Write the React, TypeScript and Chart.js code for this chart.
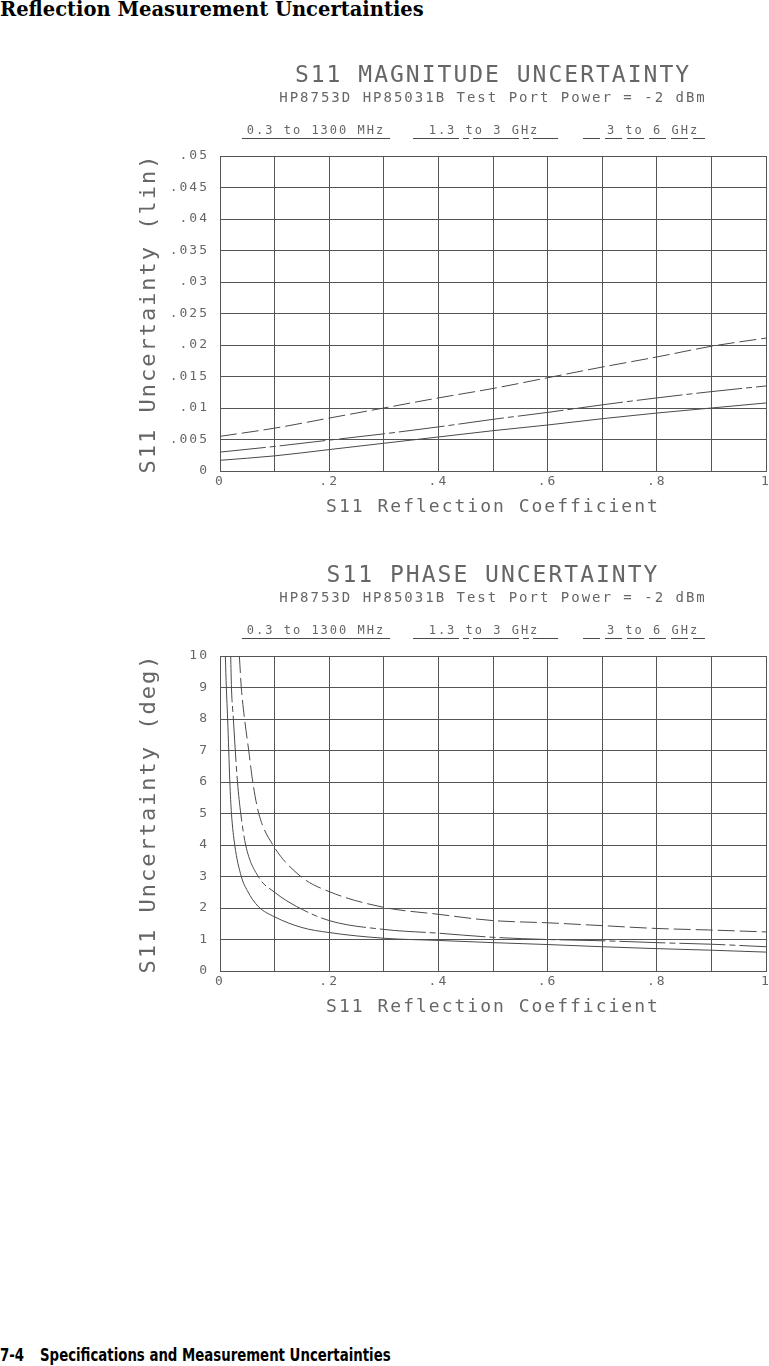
import React, { useEffect, useRef } from 'react';
import { Chart, registerables } from 'chart.js';

Chart.register(...registerables);

// ---------- text ----------
const pageTitle = 'Reflection Measurement Uncertainties';
const footerPage = '7-4';
const footerText = 'Specifications and Measurement Uncertainties';
const subtitleText = 'HP8753D HP85031B Test Port Power = -2 dBm';
const magTitle = 'S11 MAGNITUDE UNCERTAINTY';
const phaseTitle = 'S11 PHASE UNCERTAINTY';
const xAxisTitle = 'S11 Reflection Coefficient';
const magYTitle = 'S11 Uncertainty (lin)';
const phaseYTitle = 'S11 Uncertainty (deg)';
const seriesLabels = ['0.3 to 1300 MHz', '1.3 to 3 GHz', '3 to 6 GHz'];

// ---------- tick labels ----------
const xTickLabels = ['0', '.2', '.4', '.6', '.8', '1'];
const magYTickLabels = ['0', '.005', '.01', '.015', '.02', '.025', '.03', '.035', '.04', '.045', '.05'];
const phaseYTickLabels = ['0', '1', '2', '3', '4', '5', '6', '7', '8', '9', '10'];

// ---------- magnitude data ----------
const magX = [0, 0.1, 0.2, 0.3, 0.4, 0.5, 0.6, 0.7, 0.8, 0.9, 1.0];
const magLow = [0.0017, 0.0024, 0.0034, 0.0044, 0.0054, 0.0064, 0.0073, 0.0083, 0.0092, 0.01, 0.0108];
const magMid = [0.003, 0.0039, 0.0049, 0.0059, 0.007, 0.0082, 0.0093, 0.0105, 0.0116, 0.0126, 0.0135];
const magHigh = [0.0055, 0.0068, 0.0084, 0.01, 0.0116, 0.0131, 0.0148, 0.0165, 0.0181, 0.0198, 0.0211];

// ---------- phase data ----------
const phaseLowX = [0.0098, 0.0116, 0.014, 0.016, 0.018, 0.021, 0.027, 0.039, 0.05, 0.07, 0.1, 0.15, 0.2, 0.3, 0.4, 0.5, 0.6, 0.7, 0.8, 0.9, 1.0];
const phaseLowY = [10, 9, 8, 7, 6, 5, 4, 3, 2.55, 2.05, 1.72, 1.38, 1.22, 1.04, 0.97, 0.9, 0.84, 0.77, 0.71, 0.66, 0.6];
const phaseMidX = [0.0196, 0.021, 0.0245, 0.028, 0.032, 0.038, 0.047, 0.07, 0.1, 0.14, 0.2, 0.3, 0.4, 0.5, 0.6, 0.7, 0.8, 0.9, 1.0];
const phaseMidY = [10, 9, 8, 7, 6, 5, 4, 3, 2.5, 2.05, 1.6, 1.32, 1.2, 1.07, 1.0, 0.96, 0.9, 0.85, 0.77];
const phaseHighX = [0.0355, 0.039, 0.045, 0.0526, 0.06, 0.071, 0.097, 0.148, 0.2, 0.3, 0.4, 0.5, 0.6, 0.7, 0.8, 0.9, 1.0];
const phaseHighY = [10, 9, 8, 7, 6, 5, 4, 3, 2.52, 2.02, 1.8, 1.6, 1.53, 1.44, 1.35, 1.3, 1.24];

// ---------- styles ----------
const FONT = '"DejaVu Sans Mono", "Liberation Mono", monospace';
const TEXT = '#666666';
const GRID = '#555555';
const LINE = '#4a4a4a';
const DASHES: number[][] = [[], [46, 4, 6, 4], [17, 5]];

const toPoints = (xs: number[], ys: number[]) => xs.map((x, i) => ({ x, y: ys[i] }));

const spacingPlugin = {
  id: 'plotterSpacing',
  beforeUpdate(chart: any) { chart.ctx.letterSpacing = '2px'; },
  beforeLayout(chart: any) { chart.ctx.letterSpacing = '2px'; },
  beforeDraw(chart: any) { chart.ctx.letterSpacing = '2px'; },
};

const legendPlugin = {
  id: 'plotterLegend',
  afterDraw(chart: any, _args: any, opts: any) {
    const ctx = chart.ctx;
    ctx.save();
    ctx.letterSpacing = '2px';
    ctx.font = `12px ${FONT}`;
    ctx.fillStyle = TEXT;
    ctx.textAlign = 'center';
    ctx.textBaseline = 'middle';
    chart.data.datasets.forEach((ds: any, i: number) => {
      const it = opts.items[i];
      ctx.fillText(ds.label, it.textX, opts.textY);
      ctx.setLineDash(ds.borderDash || []);
      ctx.strokeStyle = ds.borderColor;
      ctx.lineWidth = 1;
      ctx.beginPath();
      ctx.moveTo(it.x0, opts.lineY + 0.5);
      ctx.lineTo(it.x1, opts.lineY + 0.5);
      ctx.stroke();
    });
    ctx.restore();
  },
};

type Series = { label: string; points: { x: number; y: number }[] };

function PlotterChart(props: {
  top: number;
  title: string;
  yTitle: string;
  yMax: number;
  yStep: number;
  yTickLabels: string[];
  series: Series[];
}) {
  const ref = useRef<HTMLCanvasElement | null>(null);
  useEffect(() => {
    if (!ref.current) return;
    const chart = new Chart(ref.current, {
      type: 'line',
      data: {
        datasets: props.series.map((s, i) => ({
          label: s.label,
          data: s.points,
          borderColor: LINE,
          borderWidth: 1,
          borderDash: DASHES[i],
          pointRadius: 0,
          fill: false,
          cubicInterpolationMode: 'monotone' as const,
        })),
      },
      options: {
        animation: false,
        responsive: false,
        events: [],
        layout: { padding: { left: 0, right: 14, top: 0, bottom: 0 } },
        plugins: {
          legend: { display: false },
          tooltip: { enabled: false },
          title: {
            display: true,
            text: props.title,
            fullSize: false,
            color: TEXT,
            font: { family: FONT, size: 23, weight: 'normal', lineHeight: 1 },
            padding: { top: 24.5, bottom: 0 },
          },
          subtitle: {
            display: true,
            text: subtitleText,
            fullSize: false,
            color: TEXT,
            font: { family: FONT, size: 14, weight: 'normal', lineHeight: 1 },
            padding: { top: 4, bottom: 50.5 },
          },
          plotterLegend: {
            textY: 91,
            lineY: 98,
            items: [
              { textX: 316, x0: 242, x1: 390 },
              { textX: 484, x0: 413, x1: 558 },
              { textX: 653, x0: 583, x1: 705 },
            ],
          },
        } as any,
        scales: {
          x: {
            type: 'linear',
            min: 0,
            max: 1,
            grid: { color: GRID, drawTicks: false, lineWidth: 1 },
            border: { color: GRID },
            ticks: {
              stepSize: 0.1,
              autoSkip: false,
              maxRotation: 0,
              padding: 3,
              color: TEXT,
              font: { family: FONT, size: 13, lineHeight: 1.2 },
              callback: (_v: any, i: number) => (i % 2 === 0 ? xTickLabels[i / 2] : ''),
            },
            title: {
              display: true,
              text: xAxisTitle,
              color: TEXT,
              font: { family: FONT, size: 18, lineHeight: 1 },
              padding: { top: 0, bottom: 14 },
            },
            afterFit: (s: any) => { s.height = 59; },
          },
          y: {
            type: 'linear',
            min: 0,
            max: props.yMax,
            grid: { color: GRID, drawTicks: false, lineWidth: 1 },
            border: { color: GRID },
            ticks: {
              stepSize: props.yStep,
              autoSkip: false,
              padding: 11,
              color: TEXT,
              font: { family: FONT, size: 13, lineHeight: 1.2 },
              callback: (_v: any, i: number) => props.yTickLabels[i],
            },
            title: {
              display: true,
              text: props.yTitle,
              color: TEXT,
              font: { family: FONT, size: 22, lineHeight: 1 },
              padding: { top: 138, bottom: 0 },
            },
            afterFit: (s: any) => { s.width = 220; },
          },
        },
      },
      plugins: [spacingPlugin, legendPlugin],
    });
    return () => chart.destroy();
  }, []);
  return (
    <canvas
      ref={ref}
      width={780}
      height={490}
      style={{ position: 'absolute', left: 0, top: props.top, width: 780, height: 490 }}
    />
  );
}

export default function App() {
  const magSeries: Series[] = [
    { label: seriesLabels[0], points: toPoints(magX, magLow) },
    { label: seriesLabels[1], points: toPoints(magX, magMid) },
    { label: seriesLabels[2], points: toPoints(magX, magHigh) },
  ];
  const phaseSeries: Series[] = [
    { label: seriesLabels[0], points: toPoints(phaseLowX, phaseLowY) },
    { label: seriesLabels[1], points: toPoints(phaseMidX, phaseMidY) },
    { label: seriesLabels[2], points: toPoints(phaseHighX, phaseHighY) },
  ];
  return (
    <div style={{ position: 'absolute', left: 0, top: 0, width: 769, height: 1366, overflow: 'hidden', background: '#fff' }}>
      <div style={{ position: 'absolute', left: 0, top: -1, font: 'bold 19.5px "DejaVu Serif", serif', lineHeight: '22px', whiteSpace: 'nowrap', color: '#000' }}>
        {pageTitle}
      </div>
      <PlotterChart top={40} title={magTitle} yTitle={magYTitle} yMax={0.05} yStep={0.005} yTickLabels={magYTickLabels} series={magSeries} />
      <PlotterChart top={540} title={phaseTitle} yTitle={phaseYTitle} yMax={10} yStep={1} yTickLabels={phaseYTickLabels} series={phaseSeries} />
      <div style={{ position: 'absolute', left: 0, top: 1345, font: 'bold 17px "Liberation Sans Narrow", "DejaVu Sans Condensed", sans-serif', lineHeight: '20px', whiteSpace: 'nowrap', color: '#000', transform: 'scaleX(0.87)', transformOrigin: '0 0' }}>
        <span>{footerPage}</span>
        <span style={{ position: 'absolute', left: 46, top: 0 }}>{footerText}</span>
      </div>
    </div>
  );
}
